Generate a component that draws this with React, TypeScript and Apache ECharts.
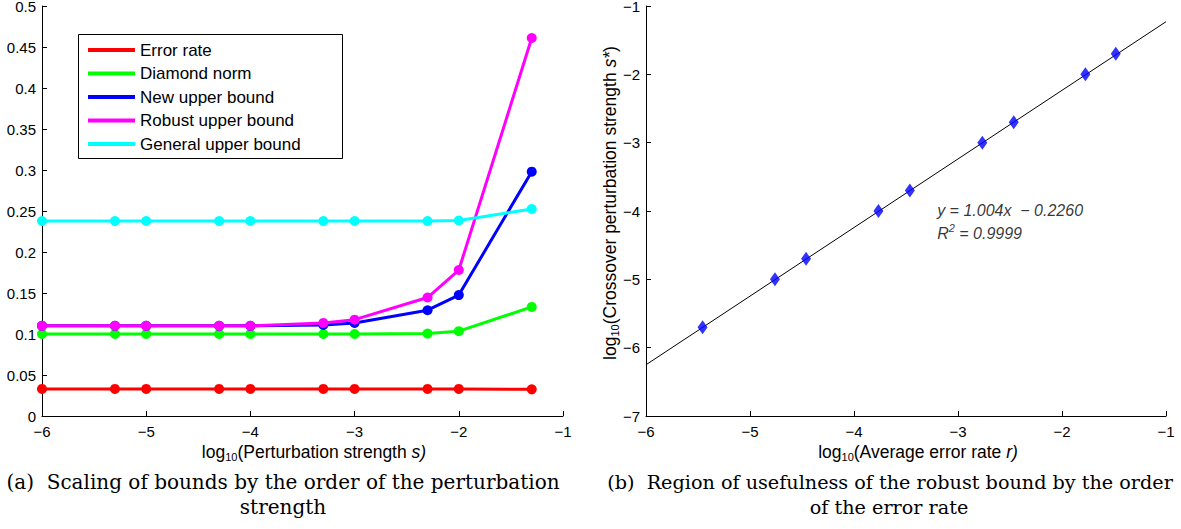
import React, { useEffect, useRef } from "react";
import * as echarts from "echarts";

// ---------- data (left panel) ----------
const perturbX = [-6, -5.3, -5, -4.3, -4, -3.3, -3, -2.3, -2, -1.3];
const errorRate = [0.033, 0.033, 0.033, 0.033, 0.033, 0.033, 0.033, 0.033, 0.033, 0.0325];
const diamondNorm = [0.1, 0.1, 0.1, 0.1, 0.1, 0.1, 0.1, 0.1005, 0.1035, 0.133];
const newUpper = [0.11, 0.11, 0.11, 0.11, 0.11, 0.111, 0.1135, 0.129, 0.1475, 0.298];
const robustUpper = [0.11, 0.11, 0.11, 0.11, 0.11, 0.1135, 0.1175, 0.1445, 0.178, 0.461];
const generalUpper = [0.2378, 0.2378, 0.2378, 0.2378, 0.2378, 0.2378, 0.2378, 0.2378, 0.2384, 0.2524];
const seriesNames = ["Error rate", "Diamond norm", "New upper bound", "Robust upper bound", "General upper bound"];
const seriesColors = ["#ff0000", "#00ff00", "#0000ff", "#ff00ff", "#00ffff"];

// ---------- data (right panel) ----------
const avgErrorX = [-5.456, -4.76, -4.461, -3.765, -3.463, -2.766, -2.464, -1.775, -1.483];
const crossoverY = [-5.7, -5.0, -4.7, -4.0, -3.7, -3.0, -2.7, -2.0, -1.7];
const fitLineX = [-6, -1];
const fitLineY = [-6.25, -1.23];
const fitAnnotationAt = [-3.2, -4.0];
const fitEquation = "y = 1.004x\u00a0\u00a0\u2212 0.2260";
const fitR2 = "0.9999";

const SANS = "'Liberation Sans', Arial, Helvetica, sans-serif";
const SERIF = "'DejaVu Serif', serif";

const minus = (v: number) => String(v).replace("-", "\u2212");

export default function App() {
  const ref = useRef<HTMLDivElement>(null);

  useEffect(() => {
    if (!ref.current) return;
    const chart = echarts.init(ref.current, null, { renderer: "svg" });

    const axisCommon = {
      axisLine: { show: true, onZero: false, lineStyle: { color: "#000", width: 1 } },
      axisTick: { show: true, inside: true, length: 5, lineStyle: { color: "#000" } },
      splitLine: { show: false },
      axisLabel: { color: "#000", fontFamily: SANS, fontSize: 15 },
    };

    const nameRich = {
      n: { fontFamily: SANS, fontSize: 17.5, color: "#000", lineHeight: 20, verticalAlign: "middle" },
      sub: { fontFamily: SANS, fontSize: 11, color: "#000", lineHeight: 20, verticalAlign: "bottom" },
      it: { fontFamily: SANS, fontSize: 17.5, fontStyle: "italic", color: "#000", lineHeight: 20, verticalAlign: "middle" },
    };

    const leftSeries = seriesNames.map((name, i) => {
      const vals = [errorRate, diamondNorm, newUpper, robustUpper, generalUpper][i];
      return {
        name,
        type: "line",
        xAxisIndex: 0,
        yAxisIndex: 0,
        data: perturbX.map((x, j) => [x, vals[j]]),
        symbol: "circle",
        symbolSize: 10,
        color: seriesColors[i],
        itemStyle: { color: seriesColors[i] },
        lineStyle: { color: seriesColors[i], width: 3 },
        z: 2 + i,
      };
    });

    const captionStyle = (text: string, size: number) => ({
      text,
      font: `${size}px ${SERIF}`,
      fill: "#000",
      align: "center",
      verticalAlign: "middle",
    });

    const option: any = {
      animation: false,
      backgroundColor: "#fff",
      grid: [
        { left: 42, top: 6, width: 521, height: 410, containLabel: false, outerBoundsMode: "none" },
        { left: 646, top: 6, width: 520, height: 410, containLabel: false, outerBoundsMode: "none" },
      ],
      xAxis: [
        {
          ...axisCommon,
          gridIndex: 0,
          type: "value",
          min: -6,
          max: -1,
          interval: 1,
          axisLabel: { ...axisCommon.axisLabel, margin: 8, formatter: minus },
        },
        {
          ...axisCommon,
          gridIndex: 1,
          type: "value",
          min: -6,
          max: -1,
          interval: 1,
          axisLabel: { ...axisCommon.axisLabel, margin: 8, formatter: minus },
        },
      ],
      yAxis: [
        {
          ...axisCommon,
          gridIndex: 0,
          type: "value",
          min: 0,
          max: 0.5,
          interval: 0.05,
          axisLabel: {
            ...axisCommon.axisLabel,
            margin: 6,
            formatter: (v: number) => String(Math.round(v * 100) / 100),
          },
        },
        {
          ...axisCommon,
          gridIndex: 1,
          type: "value",
          min: -7,
          max: -1,
          interval: 1,
          axisLabel: { ...axisCommon.axisLabel, margin: 6, formatter: minus },
        },
      ],
      legend: {
        data: seriesNames,
        orient: "vertical",
        left: 88,
        top: 40,
        padding: 0,
        itemGap: 3.5,
        itemWidth: 47,
        itemHeight: 4,
        icon: "rect",
        textStyle: { fontFamily: SANS, fontSize: 17, color: "#000", lineHeight: 20 },
        selectedMode: false,
      },
      series: [
        ...leftSeries,
        {
          name: "fit",
          type: "line",
          xAxisIndex: 1,
          yAxisIndex: 1,
          data: fitLineX.map((x, i) => [x, fitLineY[i]]),
          symbol: "none",
          lineStyle: { color: "#000", width: 1 },
          z: 2,
        },
        {
          name: "crossover",
          type: "scatter",
          xAxisIndex: 1,
          yAxisIndex: 1,
          data: avgErrorX.map((x, i) => [x, crossoverY[i]]),
          symbol: "diamond",
          symbolSize: [10, 14],
          itemStyle: { color: "#0000ff" },
          z: 3,
        },
        {
          name: "annotation",
          type: "scatter",
          xAxisIndex: 1,
          yAxisIndex: 1,
          data: [fitAnnotationAt],
          symbolSize: 0.1,
          itemStyle: { color: "rgba(0,0,0,0)" },
          silent: true,
          z: 4,
          label: {
            show: true,
            position: [0, -11.5],
            align: "left",
            verticalAlign: "top",
            formatter: `{i|${fitEquation}}\n{i|R}{sup|2}{i| = ${fitR2}}`,
            rich: {
              i: { fontFamily: SANS, fontSize: 16, fontStyle: "italic", color: "#000", lineHeight: 23, verticalAlign: "middle" },
              sup: { fontFamily: SANS, fontSize: 11, fontStyle: "italic", color: "#000", lineHeight: 23, verticalAlign: "top" },
            },
          },
        },
      ],
      graphic: [
        {
          type: "rect",
          shape: { x: 78.5, y: 34.5, width: 264, height: 124 },
          style: { fill: "none", stroke: "#000", lineWidth: 1 },
          z: 1,
        },
        {
          type: "text",
          x: 314,
          y: 452,
          style: {
            text: "{n|log}{sub|10}{n|(Perturbation strength }{it|s)}",
            rich: nameRich,
            align: "center",
            verticalAlign: "middle",
          },
        },
        {
          type: "text",
          x: 918,
          y: 452,
          style: {
            text: "{n|log}{sub|10}{n|(Average error rate }{it|r)}",
            rich: nameRich,
            align: "center",
            verticalAlign: "middle",
          },
        },
        {
          type: "text",
          x: 610,
          y: 203,
          rotation: Math.PI / 2,
          style: {
            text: "{n|log}{sub|10}{n|(Crossover perturbation strength }{it|s*}{n|)}",
            rich: nameRich,
            align: "center",
            verticalAlign: "middle",
          },
        },
        {
          type: "text",
          x: 283,
          y: 482,
          style: captionStyle("(a)\u00a0\u00a0Scaling of bounds by the order of the perturbation", 20),
        },
        { type: "text", x: 283, y: 507, style: captionStyle("strength", 20) },
        {
          type: "text",
          x: 890,
          y: 482,
          style: captionStyle("(b)\u00a0\u00a0Region of usefulness of the robust bound by the order", 19.2),
        },
        { type: "text", x: 889, y: 507, style: captionStyle("of the error rate", 19.2) },
      ],
    };

    chart.setOption(option);
    return () => chart.dispose();
  }, []);

  return (
    <div
      ref={ref}
      style={{ position: "absolute", left: 0, top: 0, width: 1181, height: 529, background: "#fff" }}
    />
  );
}
